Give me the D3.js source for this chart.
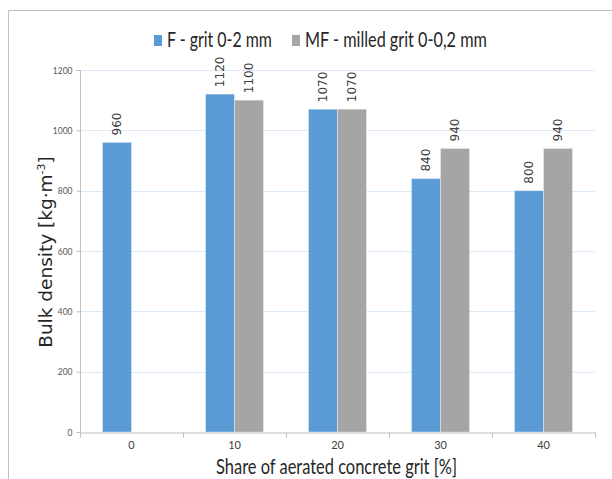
<!DOCTYPE html>
<html>
<head>
<meta charset="utf-8">
<script src="https://cdn.jsdelivr.net/npm/d3@7"></script>
<style>
  body { margin: 0; background: #fff; }
  svg { display: block; }
</style>
</head>
<body>
<div id="chart"></div>
<script>
var categories = ["0", "10", "20", "30", "40"];
var seriesNames = ["F - grit 0-2 mm", "MF - milled grit 0-0,2 mm"];
var gritF  = [960, 1120, 1070, 840, 800];
var milled = [null, 1100, 1070, 940, 940];
var yTicks = [0, 200, 400, 600, 800, 1000, 1200];
var colors = ["#5b9bd5", "#a5a5a5"];

var width = 612, height = 479;
var margin = {left: 80, right: 17, top: 70, bottom: 47};
var narrow = "Lato, 'Open Sans', sans-serif";

var svg = d3.select("#chart").append("svg")
    .attr("width", width)
    .attr("height", height);

// squeeze a text horizontally (Calibri-like look) to a given width
function squeeze(text, px, py, w) {
  text.each(function(d, i) {
    var el = d3.select(this);
    var tw = typeof w === "function" ? w(d, i) : w;
    var k = tw / this.getComputedTextLength();
    el.attr("transform", "translate(" + px + "," + py + ") scale(" + k + ",1)");
  });
}

// outer frame (top + left only visible)
svg.append("path")
   .attr("d", "M8.5,479 V10.5 H612")
   .attr("fill", "none")
   .attr("stroke", "#bfbfbf")
   .attr("stroke-width", 1);

var x = d3.scaleBand()
    .domain(categories)
    .range([margin.left, width - margin.right]);

var x1 = d3.scaleBand()
    .domain([0, 1])
    .range([0, x.bandwidth()])
    .paddingOuter(x.bandwidth() / 2 / 29 - 1)
    .paddingInner(0);

var y = d3.scaleLinear()
    .domain([0, 1200])
    .range([height - margin.bottom, margin.top]);

// gridlines
svg.append("g").selectAll("line")
   .data(yTicks.slice(1))
   .enter().append("line")
   .attr("x1", margin.left)
   .attr("x2", width - margin.right)
   .attr("y1", function(d) { return Math.round(y(d)) + 0.5; })
   .attr("y2", function(d) { return Math.round(y(d)) + 0.5; })
   .attr("stroke", "#dce9f8")
   .attr("stroke-width", 1);

// bars
var rows = categories.map(function(c, i) { return [c, [gritF[i], milled[i]]]; });

var groups = svg.append("g").selectAll("g")
    .data(rows)
    .enter().append("g")
    .attr("transform", function(d) { return "translate(" + x(d[0]) + ",0)"; });

var cells = groups.selectAll("g")
    .data(function(d) { return d[1].map(function(v, k) { return {k: k, v: v}; }).filter(function(e) { return e.v != null; }); })
    .enter().append("g");

cells.append("rect")
    .attr("x", function(d) { return x1(d.k); })
    .attr("width", x1.bandwidth())
    .attr("y", function(d) { return y(d.v); })
    .attr("height", function(d) { return y(0) - y(d.v); })
    .attr("fill", function(d) { return colors[d.k]; })
    .attr("stroke", "#fff")
    .attr("stroke-opacity", 0.35)
    .attr("stroke-width", 1);

cells.append("text")
    .attr("transform", function(d) {
        return "translate(" + (x1(d.k) + x1.bandwidth() / 2) + "," + (y(d.v) - 7) + ") rotate(-90)";
    })
    .attr("dy", "0.35em")
    .attr("text-anchor", "start")
    .attr("font-family", "DejaVu Sans")
    .attr("font-size", 12)
    .attr("fill", "#404040")
    .text(function(d) { return d.v; });

// y axis
var yAxis = svg.append("g")
    .attr("transform", "translate(" + (margin.left + 0.5) + ",0)")
    .call(d3.axisLeft(y).tickValues(yTicks).tickFormat(d3.format("d")).tickSize(4).tickPadding(4));
yAxis.select(".domain").attr("stroke", "#bfbfbf").attr("d", "M-4," + (y(1200) + 0.5) + "H0V" + (y(0) + 0.5) + "H-4");
yAxis.selectAll(".tick line").attr("stroke", "#bfbfbf");
yAxis.selectAll(".tick text")
    .attr("font-family", narrow)
    .attr("font-size", 10)
    .attr("fill", "#595959")
    .attr("transform", "scale(0.85,1)")
    .attr("x", -8 / 0.85);

// x axis
var xAxis = svg.append("g")
    .attr("transform", "translate(0," + (y(0) + 0.5) + ")")
    .call(d3.axisBottom(x).tickSize(0).tickPadding(9));
xAxis.select(".domain").attr("stroke", "#bfbfbf");
xAxis.selectAll(".tick text")
    .attr("font-family", narrow)
    .attr("font-size", 11)
    .attr("fill", "#404040");
xAxis.selectAll(".sep")
    .data(d3.range(categories.length + 1))
    .enter().append("line")
    .attr("class", "sep")
    .attr("x1", function(i) { return Math.round(margin.left + i * x.bandwidth()) + 0.5; })
    .attr("x2", function(i) { return Math.round(margin.left + i * x.bandwidth()) + 0.5; })
    .attr("y1", 0)
    .attr("y2", 5)
    .attr("stroke", "#bfbfbf");

// axis titles
svg.append("text")
   .attr("text-anchor", "middle")
   .attr("font-family", narrow)
   .attr("font-size", 21)
   .attr("fill", "#262626")
   .text("Share of aerated concrete grit [%]")
   .call(squeeze, 336.5, 474, 241);

var yTitle = svg.append("text")
   .attr("transform", "translate(52,252) rotate(-90)")
   .attr("text-anchor", "middle")
   .attr("font-family", "DejaVu Sans")
   .attr("font-size", 18.5)
   .attr("fill", "#262626");
yTitle.append("tspan").text("Bulk density [kg\u00b7m");
yTitle.append("tspan").attr("dy", -7).attr("font-size", 11).text("-3");
yTitle.append("tspan").attr("dy", 7).text("]");

// legend
var legendX = [154, 292];
var legendW = [105, 182];
var legend = svg.append("g").selectAll("g")
    .data(seriesNames)
    .enter().append("g")
    .attr("transform", function(d, i) { return "translate(" + legendX[i] + ",0)"; });
legend.append("rect")
    .attr("x", 0).attr("y", 35)
    .attr("width", 8).attr("height", 11)
    .attr("fill", function(d, i) { return colors[i]; });
legend.append("text")
    .attr("font-family", narrow)
    .attr("font-size", 21)
    .attr("fill", "#262626")
    .text(function(d) { return d; })
    .call(squeeze, 13, 47, function(d, i) { return legendW[i]; });
</script>
</body>
</html>
